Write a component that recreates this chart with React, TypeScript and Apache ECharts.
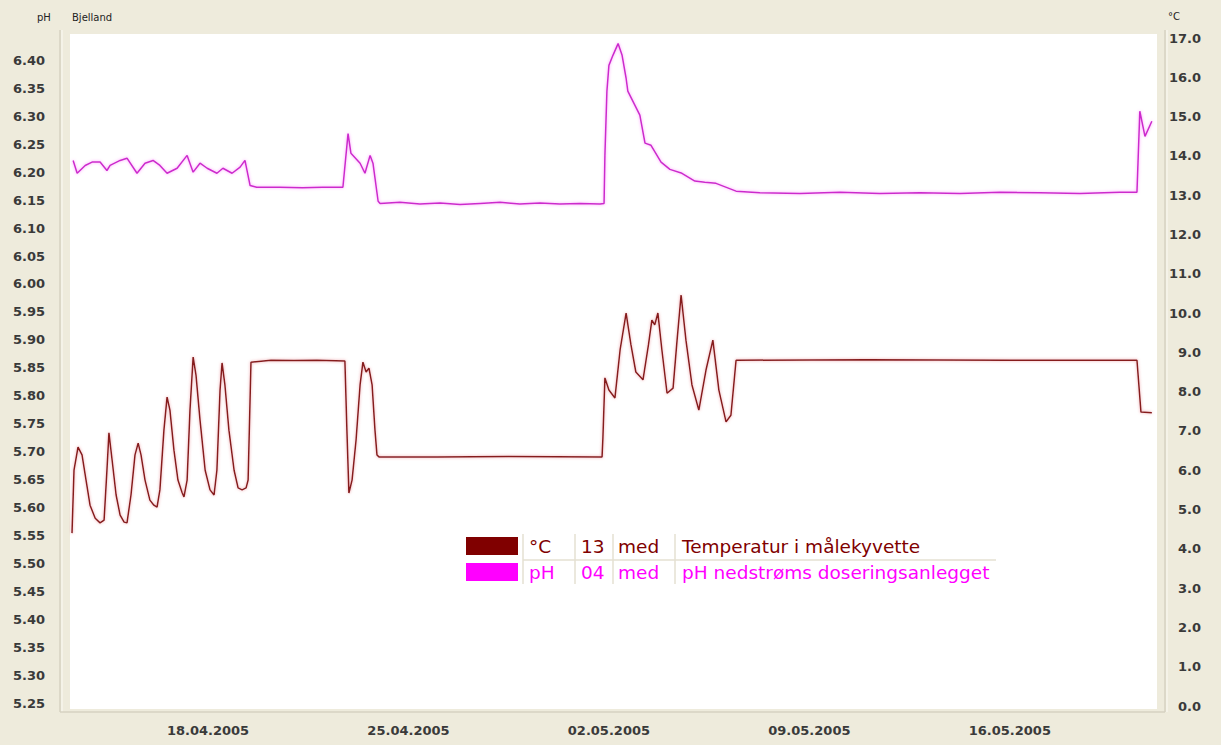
import React, { useEffect, useRef } from "react";
import * as echarts from "echarts";

// x values: days since 11.04.2005 00:00
const DAY0 = Date.UTC(2005, 3, 11);

const dateTicks = [7, 14, 21, 28, 35]; // 18.04, 25.04, 02.05, 09.05, 16.05
const phTicks = [5.25, 5.3, 5.35, 5.4, 5.45, 5.5, 5.55, 5.6, 5.65, 5.7, 5.75, 5.8, 5.85, 5.9, 5.95, 6.0, 6.05, 6.1, 6.15, 6.2, 6.25, 6.3, 6.35, 6.4];

const tempDays = [
  2.25, 2.32, 2.46, 2.6, 2.74, 2.88, 3.06, 3.23, 3.37, 3.47, 3.54, 3.65, 3.79, 3.93, 4.07, 4.17, 4.31, 4.45, 4.56, 4.66,
  4.8, 4.97, 5.11, 5.22, 5.32, 5.46, 5.57, 5.67, 5.81, 5.95, 6.09, 6.16, 6.27, 6.37, 6.48, 6.58, 6.72, 6.9, 7.07, 7.21,
  7.31, 7.42, 7.49, 7.59, 7.73, 7.91, 8.05, 8.19, 8.33, 8.4, 8.5, 9.2, 10.0, 10.8, 11.78, 11.85, 11.92, 12.03, 12.17, 12.31,
  12.41, 12.52, 12.62, 12.73, 12.83, 12.9, 12.97, 15.0, 17.5, 20.76, 20.79, 20.86, 21.0, 21.21, 21.39, 21.6, 21.77, 21.94, 22.19, 22.38,
  22.5, 22.6, 22.71, 22.85, 23.03, 23.24, 23.38, 23.52, 23.69, 23.9, 24.14, 24.39, 24.63, 24.84, 25.09, 25.26, 25.44, 30.0, 35.0, 39.44,
  39.58, 39.96,
];
const tempValues = [
  4.4, 6.0, 6.59, 6.39, 5.75, 5.11, 4.78, 4.66, 4.73, 6.0, 6.95, 6.26, 5.37, 4.86, 4.68, 4.66, 5.37, 6.39, 6.69, 6.39,
  5.75, 5.24, 5.11, 5.06, 5.5, 7.02, 7.86, 7.53, 6.51, 5.75, 5.44, 5.32, 5.75, 7.53, 8.88, 8.42, 7.28, 6.0, 5.5, 5.37,
  6.0, 8.04, 8.73, 8.17, 7.02, 6.0, 5.55, 5.5, 5.55, 5.75, 8.75, 8.8, 8.79, 8.8, 8.78, 7.02, 5.42, 5.75, 6.77, 8.17,
  8.75, 8.5, 8.6, 8.17, 7.02, 6.39, 6.34, 6.34, 6.35, 6.34, 6.82, 8.35, 8.04, 7.84, 9.06, 10.0, 9.19, 8.5, 8.3, 9.19,
  9.82, 9.7, 10.0, 9.06, 7.96, 8.09, 9.31, 10.46, 9.31, 8.17, 7.53, 8.55, 9.31, 8.04, 7.23, 7.4, 8.8, 8.81, 8.8, 8.8,
  7.48, 7.46,
];

const phDays = [
  2.29, 2.43, 2.71, 2.95, 3.23, 3.47, 3.58, 3.93, 4.17, 4.52, 4.8, 5.08, 5.32, 5.57, 5.92, 6.27, 6.48, 6.72, 6.97, 7.31,
  7.52, 7.84, 8.12, 8.29, 8.47, 8.7, 9.5, 10.3, 11.0, 11.71, 11.89, 11.99, 12.31, 12.48, 12.66, 12.76, 12.94, 13.01, 13.7, 14.4,
  15.1, 15.8, 16.5, 17.2, 17.89, 18.59, 19.29, 19.99, 20.69, 20.83, 20.86, 20.93, 21.0, 21.14, 21.32, 21.46, 21.6, 21.66, 22.08, 22.26,
  22.47, 22.82, 23.13, 23.55, 24.0, 24.35, 24.74, 25.44, 26.27, 27.67, 29.07, 30.46, 31.86, 33.26, 34.65, 36.05, 37.45, 38.84, 39.44, 39.54,
  39.72, 39.96,
];
const phValues = [
  6.221, 6.198, 6.212, 6.218, 6.218, 6.203, 6.212, 6.221, 6.225, 6.198, 6.216, 6.221, 6.212, 6.198, 6.207, 6.23, 6.2, 6.216, 6.207, 6.198,
  6.207, 6.198, 6.209, 6.221, 6.176, 6.173, 6.173, 6.172, 6.173, 6.173, 6.269, 6.234, 6.216, 6.198, 6.23, 6.216, 6.148, 6.144, 6.146, 6.143,
  6.145, 6.142, 6.144, 6.146, 6.143, 6.145, 6.143, 6.144, 6.143, 6.144, 6.23, 6.345, 6.391, 6.409, 6.43, 6.409, 6.368, 6.345, 6.302, 6.252,
  6.248, 6.218, 6.205, 6.198, 6.184, 6.182, 6.18, 6.166, 6.163, 6.162, 6.164, 6.162, 6.163, 6.162, 6.164, 6.163, 6.162, 6.164, 6.164, 6.309,
  6.264, 6.291,
];

const legendRows = [
  { unit: "°C", code: "13", stat: "med", name: "Temperatur i målekyvette", color: "#800000" },
  { unit: "pH", code: "04", stat: "med", name: "pH nedstrøms doseringsanlegget", color: "#ff00ff" },
];

const TEMP_LINE = "#861c1c";
const PH_LINE = "#cc2bcc";
const BG = "#eeebdc";
const SEP = "#d6d2c2";
const FONT = "DejaVu Sans";

function fmtDate(v: number) {
  const d = new Date(DAY0 + v * 86400000);
  const dd = String(d.getUTCDate()).padStart(2, "0");
  const mm = String(d.getUTCMonth() + 1).padStart(2, "0");
  return `${dd}.${mm}.${d.getUTCFullYear()}`;
}

export default function App() {
  const ref = useRef<HTMLDivElement>(null);
  useEffect(() => {
    if (!ref.current) return;
    const chart = echarts.init(ref.current, undefined, { renderer: "svg" });
    const labelStyle = { fontFamily: FONT, fontWeight: "bold" as const, fontSize: 13, color: "#3a3a3a" };

    const legendEls: any[] = [];
    const rowTop = [537, 563];
    legendRows.forEach((r, i) => {
      const cy = rowTop[i] + 9;
      legendEls.push({ type: "rect", shape: { x: 466, y: rowTop[i], width: 52, height: 18 }, style: { fill: r.color }, z: 100 });
      legendEls.push({ type: "text", x: 529, y: cy, style: { text: r.unit, fill: r.color, font: `18.5px '${FONT}'`, verticalAlign: "middle" }, z: 100 });
      legendEls.push({ type: "text", x: 581, y: cy, style: { text: r.code, fill: r.color, font: `18.5px '${FONT}'`, verticalAlign: "middle" }, z: 100 });
      legendEls.push({ type: "text", x: 618, y: cy, style: { text: r.stat, fill: r.color, font: `18.5px '${FONT}'`, verticalAlign: "middle" }, z: 100 });
      legendEls.push({ type: "text", x: 682, y: cy, style: { text: r.name, fill: r.color, font: `18.5px '${FONT}'`, verticalAlign: "middle" }, z: 100 });
    });
    [523, 575, 613, 675].forEach((x) => {
      legendEls.push({ type: "line", shape: { x1: x, y1: 534, x2: x, y2: 584 }, style: { stroke: "#e4e1d2", lineWidth: 1.5 }, z: 99 });
    });
    legendEls.push({ type: "line", shape: { x1: 523, y1: 560, x2: 996, y2: 560 }, style: { stroke: "#e4e1d2", lineWidth: 1.5 }, z: 99 });

    chart.setOption({
      animation: false,
      backgroundColor: BG,
      grid: { left: 70, right: 66, top: 38, bottom: 39, containLabel: false },
      xAxis: {
        type: "value",
        min: 2.18,
        max: 40.07,
        axisLine: { show: false },
        axisTick: { show: false },
        splitLine: { show: false },
        axisLabel: { ...labelStyle, margin: 18, customValues: dateTicks, formatter: (v: number) => fmtDate(v) },
      },
      yAxis: [
        {
          type: "value",
          position: "left",
          min: 5.245,
          max: 6.44,
          axisLine: { show: false },
          axisTick: { show: false },
          splitLine: { show: false },
          axisLabel: { ...labelStyle, margin: 25, customValues: phTicks, formatter: (v: number) => v.toFixed(2) },
        },
        {
          type: "value",
          position: "right",
          min: 0,
          max: 17,
          interval: 1,
          axisLine: { show: false },
          axisTick: { show: false },
          splitLine: { show: false },
          axisLabel: { ...labelStyle, margin: 46, align: "right", formatter: (v: number) => v.toFixed(1) },
        },
      ],
      series: [
        {
          type: "line",
          name: "Temperatur i målekyvette",
          yAxisIndex: 1,
          showSymbol: false,
          data: tempDays.map((d, i) => [d, tempValues[i]]),
          lineStyle: { color: TEMP_LINE, width: 1.5, shadowBlur: 3, shadowColor: "rgba(230,120,130,0.7)" },
          itemStyle: { color: TEMP_LINE },
          z: 3,
        },
        {
          type: "line",
          name: "pH nedstrøms doseringsanlegget",
          yAxisIndex: 0,
          showSymbol: false,
          data: phDays.map((d, i) => [d, phValues[i]]),
          lineStyle: { color: PH_LINE, width: 1.5, shadowBlur: 3, shadowColor: "rgba(255,110,255,0.7)" },
          itemStyle: { color: PH_LINE },
          z: 3,
        },
      ],
      graphic: [
        { type: "rect", shape: { x: 70, y: 34, width: 1087, height: 675 }, style: { fill: "#ffffff" }, z: -1, silent: true },
        { type: "line", shape: { x1: 60, y1: 30, x2: 60, y2: 712 }, style: { stroke: SEP, lineWidth: 1.5 }, z: -1 },
        { type: "line", shape: { x1: 62, y1: 30, x2: 62, y2: 712 }, style: { stroke: "#fbfaf4", lineWidth: 1 }, z: -1 },
        { type: "line", shape: { x1: 1165, y1: 30, x2: 1165, y2: 712 }, style: { stroke: SEP, lineWidth: 1.5 }, z: -1 },
        { type: "line", shape: { x1: 1167, y1: 30, x2: 1167, y2: 712 }, style: { stroke: "#fbfaf4", lineWidth: 1 }, z: -1 },
        { type: "line", shape: { x1: 60, y1: 712, x2: 1165, y2: 712 }, style: { stroke: SEP, lineWidth: 1.5 }, z: -1 },
        { type: "text", x: 37, y: 17, style: { text: "pH", fill: "#222", font: `10px '${FONT}'`, verticalAlign: "middle" } },
        { type: "text", x: 72, y: 17, style: { text: "Bjelland", fill: "#222", font: `10px '${FONT}'`, verticalAlign: "middle" } },
        { type: "text", x: 1168, y: 16, style: { text: "°C", fill: "#222", font: `10px '${FONT}'`, verticalAlign: "middle" } },
        ...legendEls,
      ],
    });
    return () => chart.dispose();
  }, []);
  return <div ref={ref} style={{ position: "absolute", left: 0, top: 0, width: 1221, height: 745 }} />;
}
